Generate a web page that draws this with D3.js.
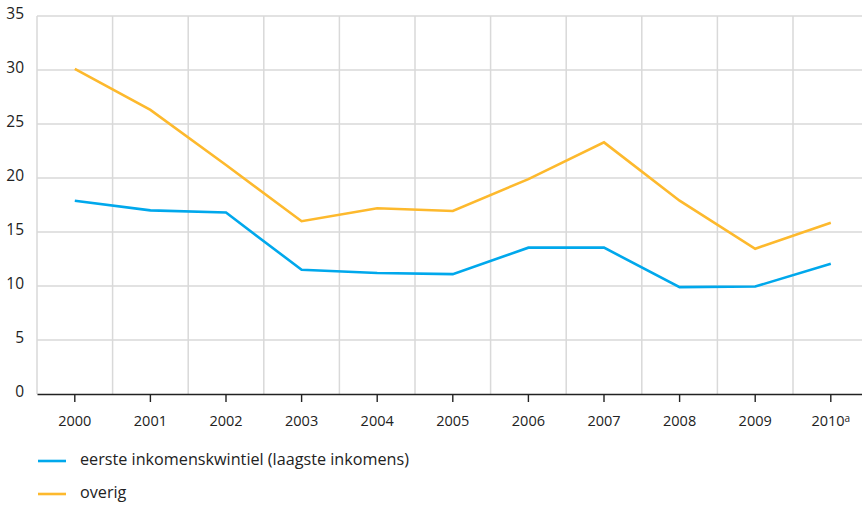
<!DOCTYPE html>
<html>
<head>
<meta charset="utf-8">
<script src="https://cdn.jsdelivr.net/npm/d3@7"></script>
<style>
  html, body { margin: 0; padding: 0; background: #fff; }
  svg { display: block; }
  text { font-family: "Open Sans", "Noto Sans", sans-serif; fill: #222; }
</style>
</head>
<body>
<svg id="chart" width="862" height="505"></svg>
<script>
const years = ["2000","2001","2002","2003","2004","2005","2006","2007","2008","2009","2010"];
const yearLabels = ["2000","2001","2002","2003","2004","2005","2006","2007","2008","2009","2010"];
const seriesNames = ["eerste inkomenskwintiel (laagste inkomens)", "overig"];
const eersteKwintiel = [17.9, 17.0, 16.8, 11.5, 11.2, 11.1, 13.55, 13.55, 9.9, 9.95, 12.05];
const overig = [30.1, 26.3, 21.2, 16.0, 17.2, 16.95, 19.9, 23.3, 17.9, 13.45, 15.85];
const yTicks = [0, 5, 10, 15, 20, 25, 30, 35];

const colors = ["#00a8ec", "#fdb92d"];
const svg = d3.select("#chart");
const mLeft = 37, mTop = 16, mBottom = 394, step = 75.6;

const x = d3.scaleBand().domain(years).range([mLeft, mLeft + step * years.length]).padding(0);
const y = d3.scaleLinear().domain([0, 35]).range([mBottom, mTop]);

// horizontal grid
svg.append("g").selectAll("line").data(yTicks.filter(d => d > 0)).join("line")
  .attr("x1", mLeft).attr("x2", 862)
  .attr("y1", d => y(d)).attr("y2", d => y(d))
  .attr("stroke", "#d9d9d9").attr("stroke-width", 1.5);

// vertical grid at band boundaries
const bounds = years.map(d => x(d));
svg.append("g").selectAll("line").data(bounds).join("line")
  .attr("x1", d => d).attr("x2", d => d)
  .attr("y1", mTop).attr("y2", mBottom)
  .attr("stroke", "#d9d9d9").attr("stroke-width", 1.5);

// y labels
svg.append("g").selectAll("text").data(yTicks).join("text")
  .attr("x", 24).attr("y", d => y(d) - 1)
  .attr("text-anchor", "end").attr("dominant-baseline", "middle")
  .attr("font-size", 15.5).text(d => d);

// x axis
const xAxis = d3.axisBottom(x).tickSize(8).tickSizeOuter(0).tickFormat((d, i) => yearLabels[i]);
const gx = svg.append("g").attr("transform", `translate(0,${mBottom})`).call(xAxis);
gx.select(".domain").attr("stroke", "#222").attr("stroke-width", 1.6);
gx.selectAll(".tick line").attr("stroke", "#222").attr("stroke-width", 1.4);
gx.selectAll(".tick text").attr("font-size", 14.5).attr("dy", "1.45em")
  .style("font-family", '"Open Sans", "Noto Sans", sans-serif').attr("fill", "#222");
gx.selectAll(".tick text").filter(d => d === "2010").each(function() {
  d3.select(this).append("tspan").attr("dy", "-0.45em").attr("font-size", 10).text("a");
});

// lines
const line = d3.line().x((d, i) => x(years[i]) + x.bandwidth() / 2).y(d => y(d));
[eersteKwintiel, overig].forEach((s, k) => {
  svg.append("path").datum(s)
    .attr("fill", "none").attr("stroke", colors[k]).attr("stroke-width", 2.6)
    .attr("stroke-linejoin", "miter").attr("d", line);
});

// legend
const leg = svg.append("g");
seriesNames.forEach((n, k) => {
  const yy = 461 + k * 33;
  leg.append("line").attr("x1", 38).attr("x2", 66).attr("y1", yy).attr("y2", yy)
    .attr("stroke", colors[k]).attr("stroke-width", 2.6);
  leg.append("text").attr("x", 80).attr("y", yy).attr("dominant-baseline", "middle")
    .attr("font-size", 16.2).text(n);
});
</script>
</body>
</html>
